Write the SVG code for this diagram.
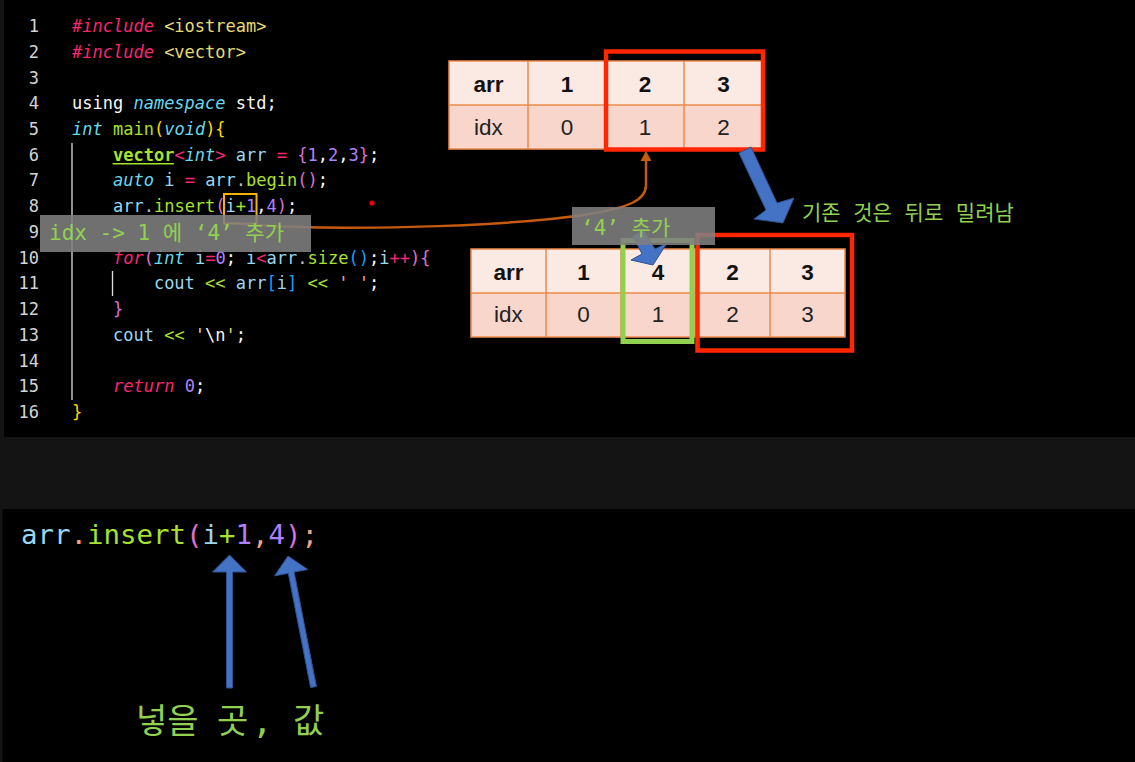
<svg xmlns="http://www.w3.org/2000/svg" width="1135" height="762" viewBox="0 0 1135 762">
<style>
.code{font-family:"DejaVu Sans Mono",monospace;font-size:17px;white-space:pre}
.ln{font-family:"DejaVu Sans Mono",monospace;font-size:17px;fill:#d4d4d4;text-anchor:end}
.pk{fill:#f92672}.cy{fill:#66d9ef;font-style:italic}.gr{fill:#a6e22e}.pu{fill:#ae81ff}.ye{fill:#e6db74}
.wh{fill:#f8f8f2}.lb{fill:#9ad7f0}.go{fill:#ffd700}.or{fill:#da70d6}.bl{fill:#179fff}.gy{fill:#bdbdbd}.pe{fill:#f0a58a}.it{font-style:italic}
.cell1{fill:#fbe9e3}.cell2{fill:#f8d6cb}
.grid{stroke:#ee8a4c;stroke-width:1.5;fill:none}
.th{font-family:"Liberation Sans",Arial,sans-serif;font-size:22.5px;font-weight:bold;fill:#111;text-anchor:middle}
.td{font-family:"Liberation Sans",Arial,sans-serif;font-size:22.5px;fill:#222;text-anchor:middle}
.lbl{font-family:"DejaVu Sans Mono","Noto Sans CJK KR",monospace;font-size:21px;fill:#92d050;white-space:pre}
.gbox{fill:#7f7f7f;fill-opacity:0.88}
.blue{fill:#4472c4;stroke:#2f528f;stroke-width:1}
.redbox{fill:none;stroke:#ff2600;stroke-width:4.5}
</style>
<g id="background">
<rect x="0" y="0" width="1135" height="762" fill="#141414"/>
<rect x="4" y="0" width="1131" height="437" fill="#000"/>
<rect x="2.5" y="509" width="1132.5" height="253" fill="#000"/>
</g>
<g id="code">
<line x1="72" y1="143" x2="72" y2="400" stroke="#e0e0e0" stroke-width="1.3"/>
<line x1="112.5" y1="271" x2="112.5" y2="296" stroke="#e0e0e0" stroke-width="1.3"/>
<text class="ln" x="39" y="32">1</text>
<text class="ln" x="39" y="57.7">2</text>
<text class="ln" x="39" y="83.5">3</text>
<text class="ln" x="39" y="109.2">4</text>
<text class="ln" x="39" y="134.9">5</text>
<text class="ln" x="39" y="160.7">6</text>
<text class="ln" x="39" y="186.4">7</text>
<text class="ln" x="39" y="212.1">8</text>
<text class="ln" x="39" y="237.8">9</text>
<text class="ln" x="39" y="263.6">10</text>
<text class="ln" x="39" y="289.3">11</text>
<text class="ln" x="39" y="315">12</text>
<text class="ln" x="39" y="340.8">13</text>
<text class="ln" x="39" y="366.5">14</text>
<text class="ln" x="39" y="392.2">15</text>
<text class="ln" x="39" y="418">16</text>
<text class="code" xml:space="preserve" x="72" y="32"><tspan class="pk it">#include</tspan><tspan class="ye"> &lt;iostream&gt;</tspan></text>
<text class="code" xml:space="preserve" x="72" y="57.7"><tspan class="pk it">#include</tspan><tspan class="ye"> &lt;vector&gt;</tspan></text>
<text class="code" xml:space="preserve" x="72" y="109.2"><tspan class="wh">using </tspan><tspan class="cy">namespace</tspan><tspan class="wh"> std;</tspan></text>
<text class="code" xml:space="preserve" x="72" y="134.9"><tspan class="cy">int</tspan><tspan class="wh"> </tspan><tspan class="gr">main</tspan><tspan class="go">(</tspan><tspan class="cy">void</tspan><tspan class="go">){</tspan></text>
<text class="code" xml:space="preserve" x="72" y="160.7">    <tspan class="gr" font-weight="bold">vector</tspan><tspan class="pk">&lt;</tspan><tspan class="cy">int</tspan><tspan class="pk">&gt;</tspan><tspan class="lb"> arr </tspan><tspan class="pk">=</tspan> <tspan class="or">{</tspan><tspan class="pu">1</tspan><tspan class="wh">,</tspan><tspan class="pu">2</tspan><tspan class="wh">,</tspan><tspan class="pu">3</tspan><tspan class="or">}</tspan><tspan class="wh">;</tspan></text>
<line x1="112.6" y1="163.8" x2="173.8" y2="163.8" stroke="#a6e22e" stroke-width="1.4"/>
<text class="code" xml:space="preserve" x="72" y="186.4">    <tspan class="cy">auto</tspan><tspan class="lb"> i </tspan><tspan class="pk">=</tspan> <tspan class="lb">arr</tspan><tspan class="gy">.</tspan><tspan class="gr">begin</tspan><tspan class="or">()</tspan><tspan class="wh">;</tspan></text>
<text class="code" xml:space="preserve" x="72" y="212.1">    <tspan class="lb">arr</tspan><tspan class="gy">.</tspan><tspan class="gr">insert</tspan><tspan class="or">(</tspan><tspan class="lb">i</tspan><tspan class="gr">+</tspan><tspan class="pu">1</tspan><tspan class="wh">,</tspan><tspan class="pu">4</tspan><tspan class="or">)</tspan><tspan class="wh">;</tspan></text>
<text class="code" xml:space="preserve" x="72" y="263.6">    <tspan class="pk it">for</tspan><tspan class="or">(</tspan><tspan class="cy">int</tspan><tspan class="lb"> i</tspan><tspan class="pk">=</tspan><tspan class="pu">0</tspan><tspan class="wh">; </tspan><tspan class="lb">i</tspan><tspan class="pk">&lt;</tspan><tspan class="lb">arr</tspan><tspan class="gy">.</tspan><tspan class="gr">size</tspan><tspan class="bl">()</tspan><tspan class="wh">;</tspan><tspan class="lb">i</tspan><tspan class="pk">++</tspan><tspan class="or">){</tspan></text>
<text class="code" xml:space="preserve" x="72" y="289.3">        <tspan class="lb">cout</tspan><tspan class="gr"> &lt;&lt; </tspan><tspan class="lb">arr</tspan><tspan class="bl">[</tspan><tspan class="lb">i</tspan><tspan class="bl">]</tspan><tspan class="gr"> &lt;&lt; </tspan><tspan class="pe">' '</tspan><tspan class="wh">;</tspan></text>
<text class="code" xml:space="preserve" x="72" y="315">    <tspan class="or">}</tspan></text>
<text class="code" xml:space="preserve" x="72" y="340.8">    <tspan class="lb">cout</tspan><tspan class="gr"> &lt;&lt; </tspan><tspan class="ye">'</tspan><tspan class="wh">\n</tspan><tspan class="ye">'</tspan><tspan class="wh">;</tspan></text>
<text class="code" xml:space="preserve" x="72" y="392.2">    <tspan class="pk it">return</tspan> <tspan class="pu">0</tspan><tspan class="wh">;</tspan></text>
<text class="code" xml:space="preserve" x="72" y="418"><tspan class="go">}</tspan></text>
<rect x="224" y="194" width="32.5" height="29.5" fill="none" stroke="#f5b400" stroke-width="2"/>
<circle cx="372" cy="203" r="2.6" fill="#e8000b"/>
</g>
<g id="table-before">
<rect class="cell1" x="449" y="61" width="314" height="44"/>
<rect class="cell2" x="449" y="105" width="314" height="44"/>
<path class="grid" d="M449 61H763V149H449Z M449 105H763 M528 61V149 M606 61V149 M684 61V149"/>
<text class="th" x="488.5" y="91.5">arr</text>
<text class="th" x="567" y="91.5">1</text>
<text class="th" x="645" y="91.5">2</text>
<text class="th" x="723.5" y="91.5">3</text>
<text class="td" x="488.5" y="135">idx</text>
<text class="td" x="567" y="135">0</text>
<text class="td" x="645" y="135">1</text>
<text class="td" x="723.5" y="135">2</text>
<rect class="redbox" x="606" y="51.5" width="157" height="98"/>
</g>
<g id="table-after">
<rect class="cell1" x="471" y="249" width="374" height="44"/>
<rect class="cell2" x="471" y="293" width="374" height="44"/>
<path class="grid" d="M471 249H845V337H471Z M471 293H845 M546 249V337 M621 249V337 M695 249V337 M770 249V337"/>
<text class="th" x="508.5" y="279.5">arr</text>
<text class="th" x="583.5" y="279.5">1</text>
<text class="th" x="658" y="279.5">4</text>
<text class="th" x="732.5" y="279.5">2</text>
<text class="th" x="807.5" y="279.5">3</text>
<text class="td" x="508.5" y="322">idx</text>
<text class="td" x="583.5" y="322">0</text>
<text class="td" x="658" y="322">1</text>
<text class="td" x="732.5" y="322">2</text>
<text class="td" x="807.5" y="322">3</text>
<rect x="623" y="240.5" width="69" height="101" fill="none" stroke="#92d050" stroke-width="5"/>
<rect class="redbox" x="697.5" y="235" width="154.5" height="115.5"/>
</g>
<g id="connectors">
<path d="M240 224 C320 231 500 228 590 214 C630 207 646 200 646 185 L646 159" fill="none" stroke="#c55a11" stroke-width="2.5"/>
<polygon points="646,151 651.5,161 640.5,161" fill="#c55a11"/>
<polygon class="blue" points="739,153 751,147 777,203 794,198 783,223 754,219 766,210"/>
<polygon class="blue" points="633,236 644,231 655,249 667,243 653,265 631,260 642,254"/>
<polygon class="blue" points="229.5,555 246.5,572 232.5,572 232.5,688 226.5,688 226.5,572 212.5,572"/>
<polygon class="blue" points="288,556 307.9,569.5 294.1,572.1 316.4,686.4 310.6,687.6 288.3,573.3 274.5,575.9"/>
</g>
<g id="label-idx">
<rect class="gbox" x="40" y="215" width="271" height="37"/>
<text class="lbl" xml:space="preserve" x="49" y="240">idx -&gt; 1 에 ‘4’ 추가</text>
</g>
<g id="label-add">
<rect class="gbox" x="572" y="207" width="143" height="38"/>
<text class="lbl" xml:space="preserve" x="581" y="235">‘4’ 추가</text>
</g>
<g id="label-shift">
<text class="lbl" xml:space="preserve" x="802" y="220">기존 것은 뒤로 밀려남</text>
</g>
<g id="bottom-code">
<text xml:space="preserve" x="21" y="544" style="font-family:'DejaVu Sans Mono',monospace;font-size:27.4px"><tspan class="lb">arr</tspan><tspan class="pe">.</tspan><tspan class="gr">insert</tspan><tspan class="or">(</tspan><tspan class="lb">i</tspan><tspan class="gr">+</tspan><tspan class="pu">1</tspan><tspan class="pe">,</tspan><tspan class="pu">4</tspan><tspan class="or">)</tspan><tspan class="pe">;</tspan></text>
</g>
<g id="label-args">
<text class="lbl" style="font-size:34px" y="733"><tspan x="136">넣을</tspan><tspan x="217">곳</tspan><tspan x="252">,</tspan><tspan x="293">값</tspan></text>
</g>
</svg>
